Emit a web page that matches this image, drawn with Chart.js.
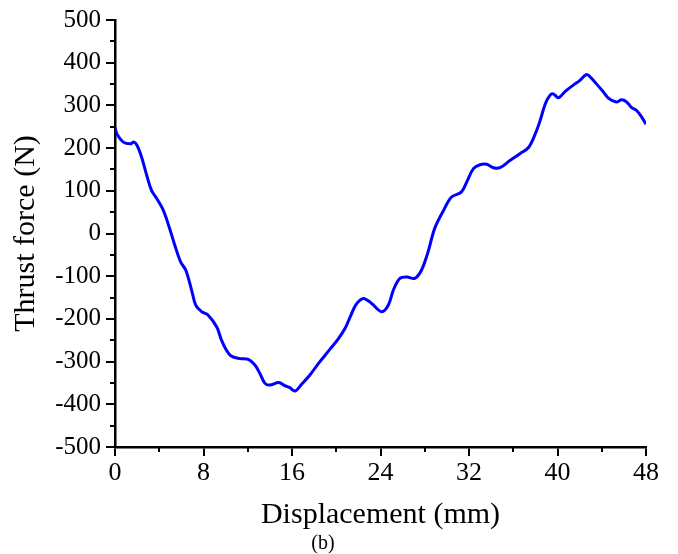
<!DOCTYPE html>
<html>
<head>
<meta charset="utf-8">
<script src="https://cdn.jsdelivr.net/npm/chart.js@4"></script>
<style>
  body { margin: 0; background: #fff; }
  #wrap { width: 678px; height: 554px; }
</style>
</head>
<body>
<div id="wrap"><canvas id="thrustChart" width="678" height="554"></canvas></div>
<script>
// Displacement (mm) vs thrust force (N)
const displacement = [0, 0.2, 0.75, 1.36, 1.72, 2.0, 2.4, 2.87, 3.3, 3.77, 4.3, 4.8, 5.4, 5.94, 6.4, 6.93, 7.3, 7.83, 8.4, 9.2, 9.6, 10.0, 10.5, 11.3, 12.05, 12.65, 13.1, 13.56, 14.0, 14.8, 15.4, 15.8, 16.27, 16.87, 17.6, 18.4, 19.4, 20.2, 20.8, 21.3, 21.8, 22.45, 23.2, 24.1, 24.7, 25.2, 25.76, 26.4, 27.1, 27.7, 28.3, 28.9, 29.7, 30.4, 31.3, 31.8, 32.4, 33.0, 33.6, 34.2, 34.8, 35.7, 36.6, 37.4, 38.0, 38.4, 38.9, 39.3, 39.6, 40.1, 40.7, 41.4, 42.0, 42.6, 42.9, 43.5, 44.1, 44.6, 45.3, 45.8, 46.25, 46.7, 47.15, 47.6, 48.0];
const thrust = [248, 232, 214, 210, 214, 206, 179, 136, 101, 82, 58, 23, -27, -67, -86, -133, -168, -183, -191, -219, -248, -270, -287, -293, -295, -308, -328, -351, -355, -349, -357, -361, -369, -353, -332, -304, -272, -246, -222, -193, -166, -152, -164, -183, -168, -130, -105, -102, -105, -86, -43, 12, 54, 85, 97, 121, 152, 161, 162, 154, 154, 171, 187, 202, 234, 262, 304, 323, 327, 318, 333, 347, 358, 372, 368, 351, 333, 317, 308, 313, 308, 295, 288, 273, 256];

const xTicks = [0, 8, 16, 24, 32, 40, 48];
const xMinor = [4, 12, 20, 28, 36, 44];
const yTicks = [-500, -400, -300, -200, -100, 0, 100, 200, 300, 400, 500];
const yMinor = [-450, -350, -250, -150, -50, 50, 150, 250, 350, 450];

const serif = "'Liberation Serif', 'Times New Roman', serif";

// short outward ticks between the labelled ones
const minorTicks = {
    id: 'minorTicks',
    afterDraw(chart) {
        const { ctx, chartArea, scales } = chart;
        ctx.save();
        ctx.strokeStyle = '#000';
        ctx.lineWidth = 2;
        ctx.beginPath();
        yMinor.forEach(v => {
            const y = Math.round(scales.y.getPixelForValue(v));
            ctx.moveTo(chartArea.left - 5, y);
            ctx.lineTo(chartArea.left, y);
        });
        xMinor.forEach(v => {
            const x = Math.round(scales.x.getPixelForValue(v));
            ctx.moveTo(x, chartArea.bottom);
            ctx.lineTo(x, chartArea.bottom + 5);
        });
        ctx.stroke();
        ctx.restore();
    }
};

new Chart(document.getElementById('thrustChart'), {
    type: 'line',
    data: {
        datasets: [{
            data: displacement.map((d, i) => ({ x: d, y: thrust[i] })),
            borderColor: '#0000ff',
            borderWidth: 3,
            pointRadius: 0,
            tension: 0.35,
            fill: false
        }]
    },
    options: {
        responsive: false,
        animation: false,
        devicePixelRatio: 1,
        layout: { padding: { top: 19, right: 32, left: 0, bottom: 0 } },
        plugins: {
            legend: { display: false },
            tooltip: { enabled: false },
            subtitle: {
                display: true,
                position: 'bottom',
                text: '(b)',
                color: '#000',
                font: { family: serif, size: 20, weight: 'normal', lineHeight: 1 },
                padding: 0
            }
        },
        scales: {
            x: {
                type: 'linear',
                min: 0, max: 48,
                afterBuildTicks: s => { s.ticks = xTicks.map(v => ({ value: v })); },
                afterFit: s => { s.height = 87; },
                border: { display: true, color: '#000', width: 2.5 },
                grid: { drawOnChartArea: false, drawTicks: true, tickLength: 9, color: '#000', lineWidth: 2 },
                ticks: { color: '#000', padding: 2, maxRotation: 0, font: { family: serif, size: 26 } },
                title: {
                    display: true,
                    text: 'Displacement (mm)',
                    color: '#000',
                    font: { family: serif, size: 30 },
                    padding: { top: 0, bottom: 1 }
                }
            },
            y: {
                type: 'linear',
                min: -500, max: 500,
                afterBuildTicks: s => { s.ticks = yTicks.map(v => ({ value: v })); },
                afterFit: s => { s.width = 115; },
                border: { display: true, color: '#000', width: 2.5 },
                grid: { drawOnChartArea: false, drawTicks: true, tickLength: 9, color: '#000', lineWidth: 2 },
                ticks: { color: '#000', padding: 5, font: { family: serif, size: 25 } },
                title: {
                    display: true,
                    text: 'Thrust force (N)',
                    color: '#000',
                    font: { family: serif, size: 30 },
                    padding: { top: 8, bottom: 0 }
                }
            }
        }
    },
    plugins: [minorTicks]
});
</script>
</body>
</html>
